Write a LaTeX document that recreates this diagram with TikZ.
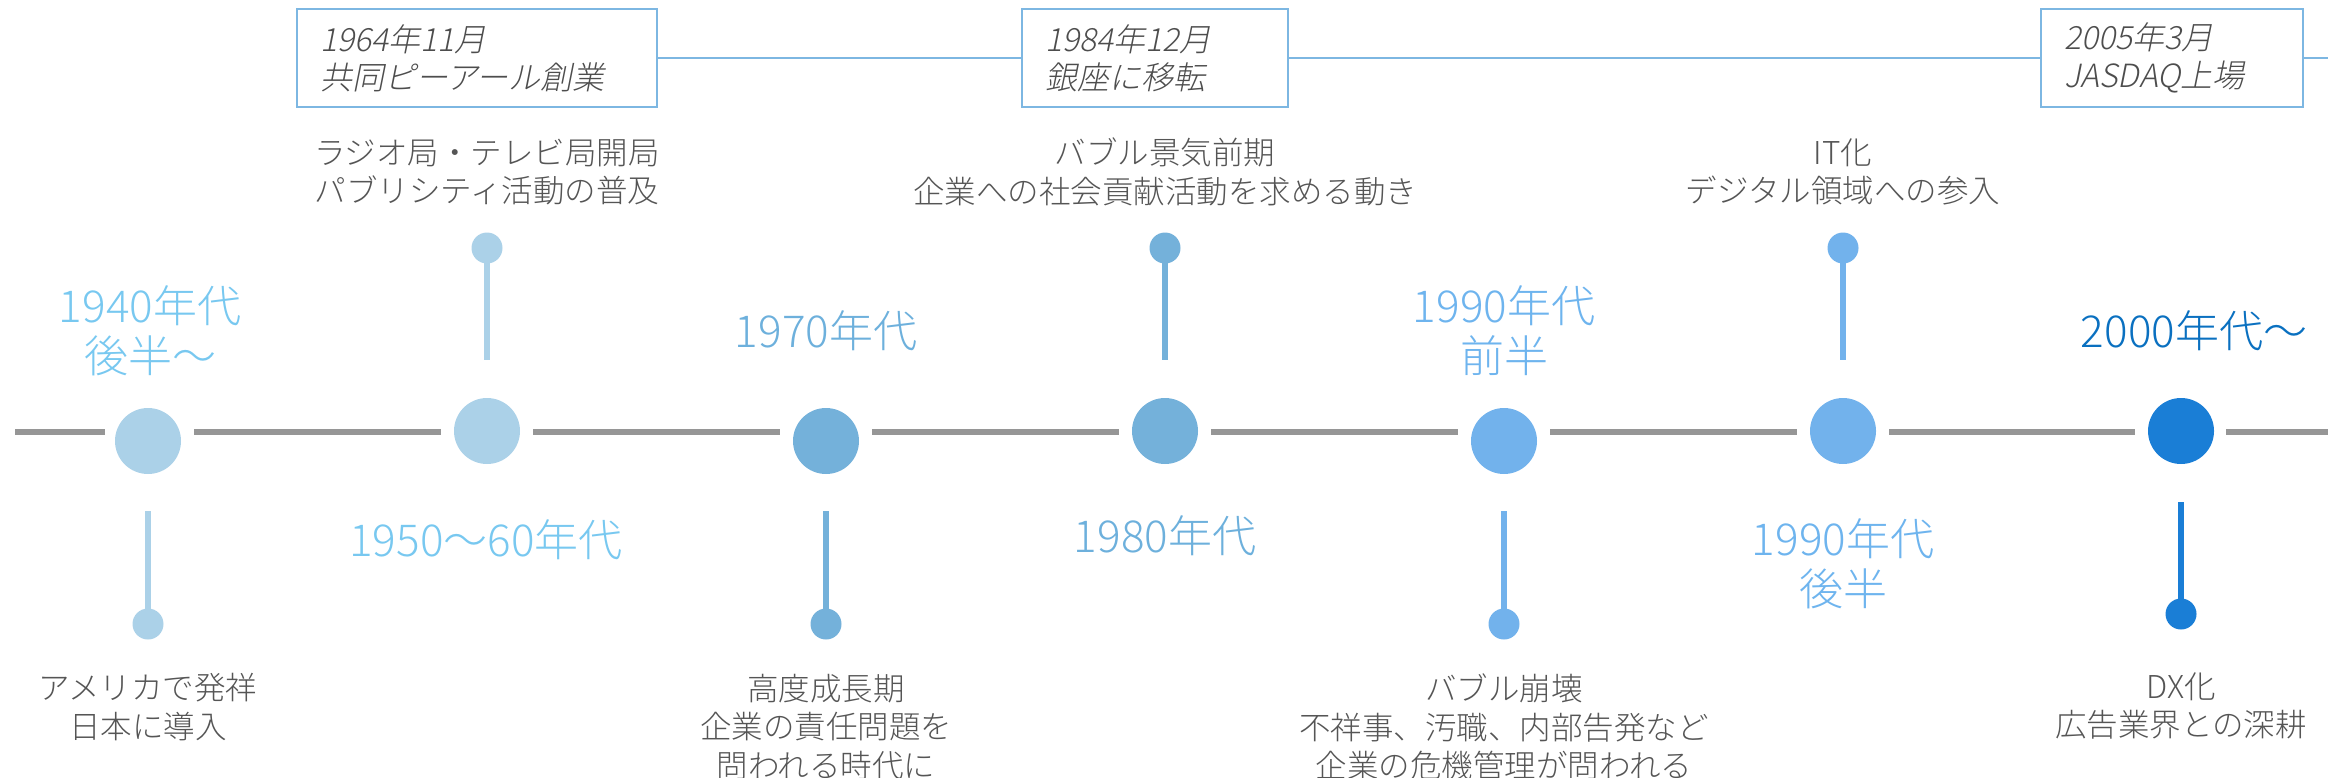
\documentclass[tikz,border=0pt]{standalone}
\usepackage{fontspec}
\newfontfamily\jp{Noto Sans CJK JP Light}
\newfontfamily\jpsl[FakeSlant=0.2]{Noto Sans CJK JP Light}
\definecolor{lineg}{HTML}{969696}
\definecolor{txtg}{HTML}{555555}
\definecolor{boxtxt}{HTML}{4D4D4D}
\definecolor{boxb}{HTML}{7DB7E2}
\definecolor{cA}{HTML}{ABD1E8}
\definecolor{cB}{HTML}{74B1DA}
\definecolor{cC}{HTML}{72B2EC}
\definecolor{cD}{HTML}{1A7ED6}
\definecolor{lA}{HTML}{78C8F0}
\definecolor{lB}{HTML}{6DB0DC}
\definecolor{lC}{HTML}{6EB4EE}
\definecolor{lD}{HTML}{0A70C0}
\begin{document}
\begin{tikzpicture}[x=1pt,y=-1pt,
  mainline/.style={line width=6pt, draw=lineg},
  big/.style={circle, inner sep=0pt, minimum size=66pt},
  dot/.style={circle, inner sep=0pt, minimum size=31pt},
  stem/.style={line width=6pt},
  evtext/.style={align=center, text=txtg, font=\jp\fontsize{31.5}{38.5}\selectfont},
  declabel/.style={align=center, font=\jp\fontsize{44}{50}\selectfont},
  evbox/.style={draw=boxb, line width=2pt, align=left, text=boxtxt, font=\jpsl\fontsize{32}{38}\selectfont, inner xsep=23pt, inner ysep=0pt, minimum height=98pt},
  boxline/.style={draw=boxb, line width=2.5pt}]
\useasboundingbox (0,0) rectangle (2328,777);

% axis coordinates
\coordinate (L) at (15,432);
\coordinate (a1) at (148,432);
\coordinate (a2) at (487,432);
\coordinate (a3) at (826,432);
\coordinate (a4) at (1165,432);
\coordinate (a5) at (1504,432);
\coordinate (a6) at (1843,432);
\coordinate (a7) at (2181,432);
\coordinate (R) at (2328,432);

\draw[mainline, shorten >=43pt] (L) -- (a1);
\draw[mainline, shorten <=46pt, shorten >=46pt] (a1) -- (a2);
\draw[mainline, shorten <=46pt, shorten >=46pt] (a2) -- (a3);
\draw[mainline, shorten <=46pt, shorten >=46pt] (a3) -- (a4);
\draw[mainline, shorten <=46pt, shorten >=46pt] (a4) -- (a5);
\draw[mainline, shorten <=46pt, shorten >=46pt] (a5) -- (a6);
\draw[mainline, shorten <=46pt, shorten >=46pt] (a6) -- (a7);
\draw[mainline, shorten <=45pt] (a7) -- (R);

% big circles
\node[big, fill=cA] (c1) at (148,441) {};
\node[big, fill=cA] (c2) at (487,431) {};
\node[big, fill=cB] (c3) at (826,441) {};
\node[big, fill=cB] (c4) at (1165,431) {};
\node[big, fill=cC] (c5) at (1504,441) {};
\node[big, fill=cC] (c6) at (1843,431) {};
\node[big, fill=cD] (c7) at (2181,431) {};

% stems
\coordinate (s1) at (148,511);
\coordinate (s2) at (487,360);
\coordinate (s3) at (826,511);
\coordinate (s4) at (1165,360);
\coordinate (s5) at (1504,511);
\coordinate (s6) at (1843,360);
\coordinate (s7) at (2181,502);
\node[dot, fill=cA] (d1) at (148,624) {};
\node[dot, fill=cA] (d2) at (487,248) {};
\node[dot, fill=cB] (d3) at (826,624) {};
\node[dot, fill=cB] (d4) at (1165,248) {};
\node[dot, fill=cC] (d5) at (1504,624) {};
\node[dot, fill=cC] (d6) at (1843,248) {};
\node[dot, fill=cD] (d7) at (2181,614) {};
\draw[stem, draw=cA] (d1.center) -- (s1);
\draw[stem, draw=cA] (d2.center) -- (s2);
\draw[stem, draw=cB] (d3.center) -- (s3);
\draw[stem, draw=cB] (d4.center) -- (s4);
\draw[stem, draw=cC] (d5.center) -- (s5);
\draw[stem, draw=cC] (d6.center) -- (s6);
\draw[stem, draw=cD] (d7.center) -- (s7);

% decade labels
\node[declabel, text=lA] (l1) at (150,331) {1940年代\\後半～};
\node[declabel, text=lA] (l2) at (486,540) {1950～60年代};
\node[declabel, text=lB] (l3) at (826,331) {1970年代};
\node[declabel, text=lB] (l4) at (1165,536) {1980年代};
\node[declabel, text=lC] (l5) at (1504,331) {1990年代\\前半};
\node[declabel, text=lC] (l6) at (1843,564) {1990年代\\後半};
\node[declabel, text=lD] (l7) at (2194,331) {2000年代～};

% event texts
\node[evtext] (e1) at (148,707) {アメリカで発祥\\日本に導入};
\node[evtext] (e2) at (487,172) {ラジオ局・テレビ局開局\\パブリシティ活動の普及};
\node[evtext] (e3) at (826,727) {高度成長期\\企業の責任問題を\\問われる時代に};
\node[evtext] (e4) at (1165,172) {バブル景気前期\\企業への社会貢献活動を求める動き};
\node[evtext] (e5) at (1504,727) {バブル崩壊\\不祥事、汚職、内部告発など\\企業の危機管理が問われる};
\node[evtext] (e6) at (1843,172) {IT化\\デジタル領域への参入};
\node[evtext] (e7) at (2181,706) {DX化\\広告業界との深耕};

% history boxes
\node[evbox, text width=314pt] (b1) at (477,58) {1964年11月\\共同ピーアール創業};
\node[evbox, text width=220pt] (b2) at (1155,58) {1984年12月\\銀座に移転};
\node[evbox, text width=216pt] (b3) at (2172,58) {2005年3月\\JASDAQ上場};
\coordinate (bR) at (2328,58);
\draw[boxline] (b1.east) -- (b2.west);
\draw[boxline] (b2.east) -- (b3.west);
\draw[boxline] (b3.east) -- (bR);
\end{tikzpicture}
\end{document}
